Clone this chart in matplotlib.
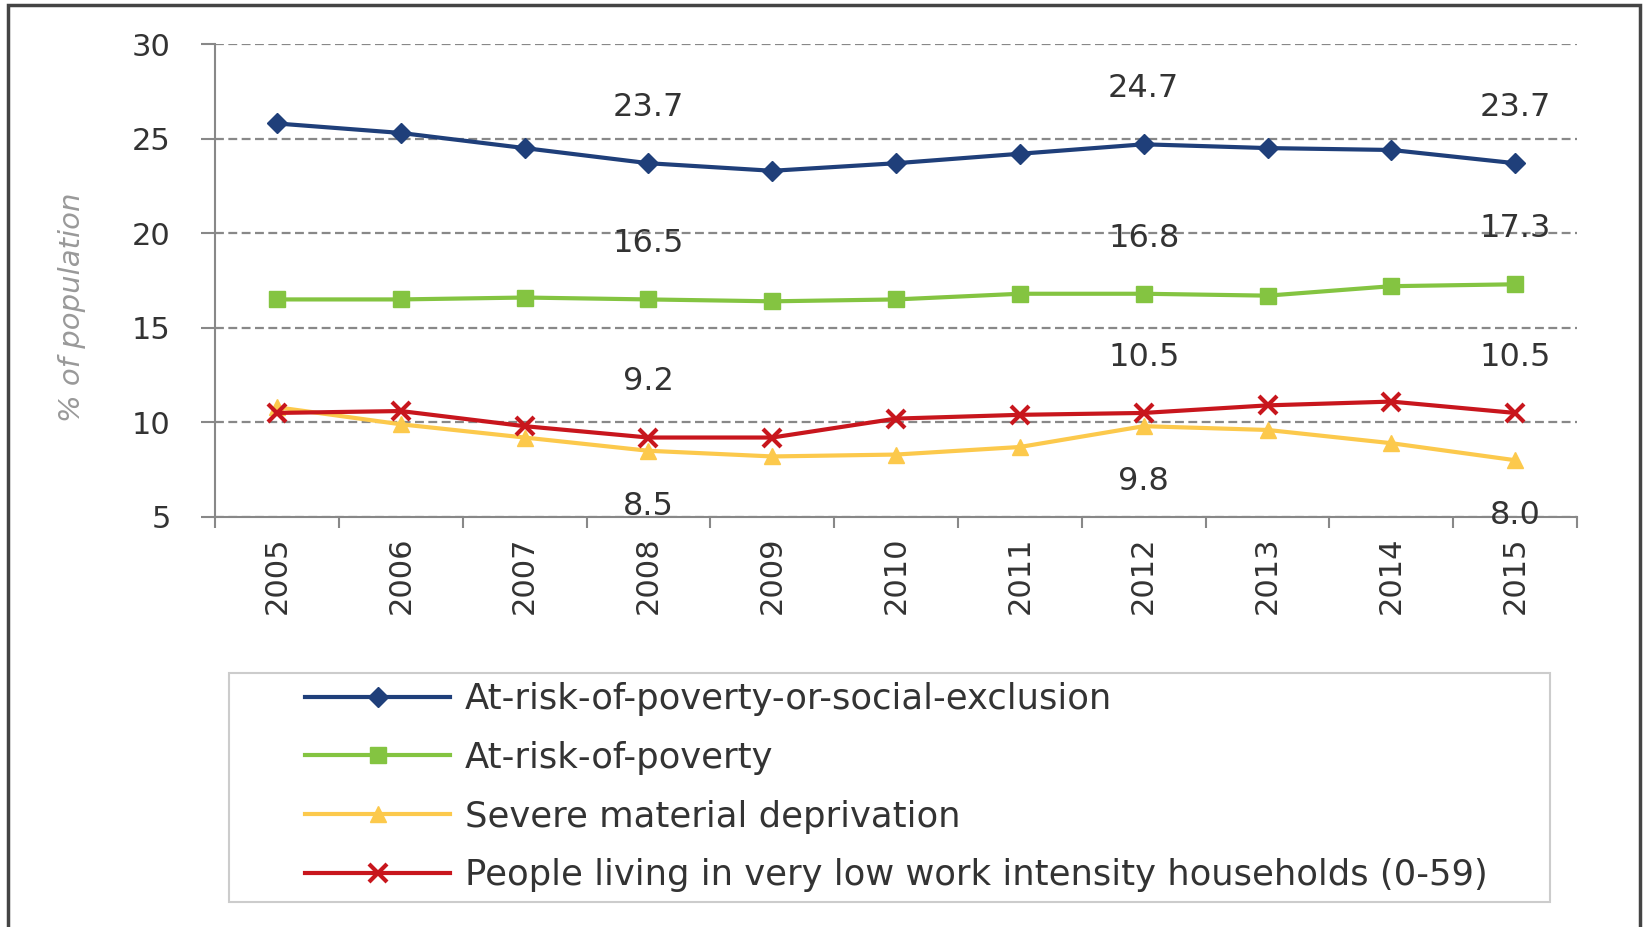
import matplotlib
matplotlib.use("Agg")
import matplotlib.pyplot as plt
from matplotlib.patches import Rectangle

years = ["2005", "2006", "2007", "2008", "2009", "2010", "2011", "2012", "2013", "2014", "2015"]
arope = [25.8, 25.3, 24.5, 23.7, 23.3, 23.7, 24.2, 24.7, 24.5, 24.4, 23.7]
arop = [16.5, 16.5, 16.6, 16.5, 16.4, 16.5, 16.8, 16.8, 16.7, 17.2, 17.3]
smd = [10.8, 9.9, 9.2, 8.5, 8.2, 8.3, 8.7, 9.8, 9.6, 8.9, 8.0]
lwi = [10.5, 10.6, 9.8, 9.2, 9.2, 10.2, 10.4, 10.5, 10.9, 11.1, 10.5]
labels = ["At-risk-of-poverty-or-social-exclusion", "At-risk-of-poverty",
          "Severe material deprivation",
          "People living in very low work intensity households (0-59)"]
yticks = [5, 10, 15, 20, 25, 30]
label_idx = [3, 7, 10]  # years with value labels

plt.rcParams['font.family'] = ['DejaVu Sans']

fig = plt.figure(figsize=(16.48, 9.27), dpi=100)
ax = fig.add_axes([0.1305, 0.4423, 0.8265, 0.5102])

x = list(range(len(years)))
c_blue, c_green, c_yellow, c_red = "#1f3f7a", "#84c441", "#fcc94c", "#c8161d"

ax.plot(x, arope, color=c_blue, lw=3, marker="D", ms=10, label=labels[0], zorder=5)
ax.plot(x, arop, color=c_green, lw=3, marker="s", ms=12, label=labels[1], zorder=5)
ax.plot(x, smd, color=c_yellow, lw=3, marker="^", ms=11, label=labels[2], zorder=5)
ax.plot(x, lwi, color=c_red, lw=3, marker="x", ms=13, mew=3, label=labels[3], zorder=6)

# value labels
for i in label_idx:
    for series, off in [(arope, 40), (arop, 40), (lwi, 40), (smd, -40)]:
        ax.annotate(f"{series[i]:.1f}", (i, series[i]), textcoords="offset points",
                    xytext=(0, off), ha="center", va="center", fontsize=23,
                    color="#333333", zorder=7)

ax.set_xlim(-0.5, len(years) - 0.5)
ax.set_ylim(5, 30)
ax.set_yticks(yticks)
ax.set_yticklabels([str(v) for v in yticks], fontsize=22, color="#333333")
ax.set_xticks(x)
ax.set_xticklabels(years, rotation=90, fontsize=22, color="#333333")
ax.tick_params(axis="x", length=0, pad=14)
ax.set_xticks([v + 0.5 for v in x[:-1]] + [-0.5, len(years) - 0.5], minor=True)
ax.tick_params(axis="x", which="minor", length=8, color="#888888", width=1.5, direction="out")
ax.tick_params(axis="y", length=10, color="#888888", width=1.5, pad=22)

ax.grid(axis="y", color="#888888", linestyle=(0, (4, 2)), linewidth=1.6, zorder=0)
for s in ["top", "right"]:
    ax.spines[s].set_visible(False)
ax.spines["left"].set_color("#888888")
ax.spines["bottom"].set_color("#888888")
ax.spines["left"].set_linewidth(1.5)
ax.spines["bottom"].set_linewidth(1.5)

ax.set_ylabel("% of population", fontsize=21, style="italic", color="#999999")
ax.yaxis.set_label_coords(-0.095, 0.444)

# legend
fig.add_artist(Rectangle((229 / 1648, 1 - 902 / 927), (1550 - 229) / 1648, (902 - 673) / 927,
                         transform=fig.transFigure, fill=False, edgecolor="#cccccc", lw=1.5))
leg = fig.legend(loc="upper left", bbox_to_anchor=(305 / 1648, 1 - 682 / 927), frameon=False,
                 fontsize=25.5, handlelength=4.1, handletextpad=0.42, labelspacing=0.7,
                 borderpad=0, borderaxespad=0, labelcolor="#333333")

# outer frame
fig.add_artist(Rectangle((8 / 1648, -0.1), (1640 - 8) / 1648, 1.1 - 5 / 927,
                         transform=fig.transFigure, fill=False, edgecolor="#444444", lw=2.5))

fig.savefig("out.png", dpi=100)
